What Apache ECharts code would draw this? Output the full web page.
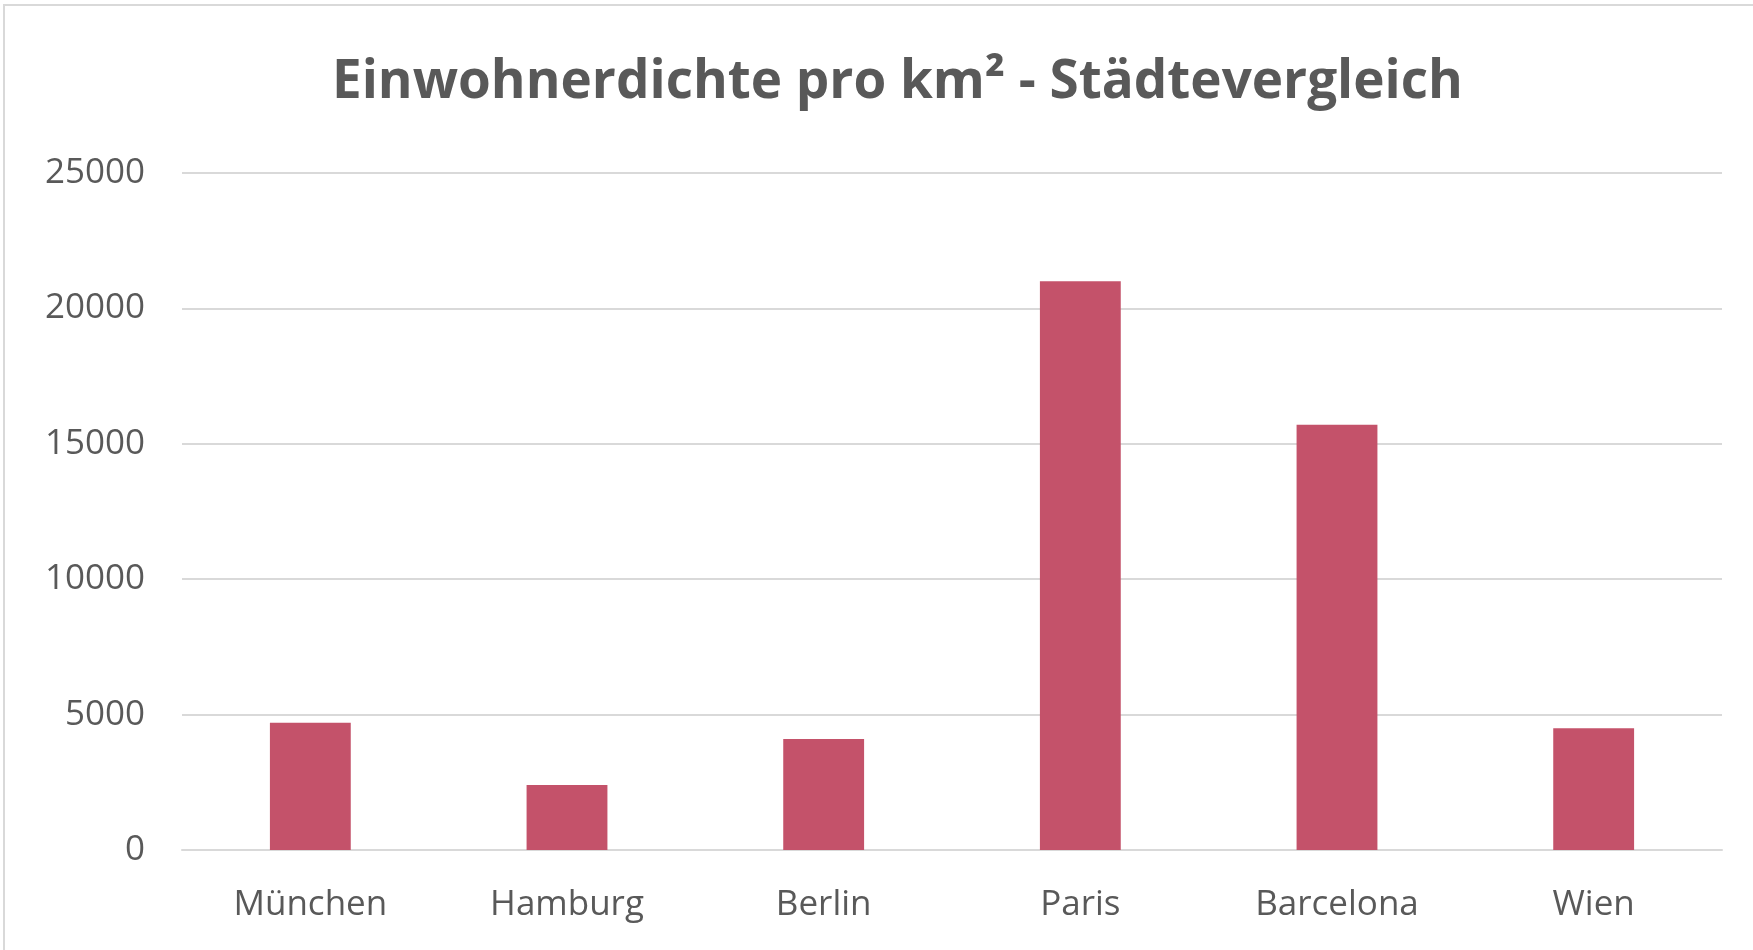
<!DOCTYPE html>
<html>
<head>
<meta charset="utf-8">
<script src="https://cdn.jsdelivr.net/npm/echarts@6/dist/echarts.min.js"></script>
<style>
html,body{margin:0;padding:0;background:#fff;}
#chart{width:1753px;height:950px;}
</style>
</head>
<body>
<div id="chart"></div>
<script>
const titleText = 'Einwohnerdichte pro km² - Städtevergleich';
const categories = ['München', 'Hamburg', 'Berlin', 'Paris', 'Barcelona', 'Wien'];
const densityValues = [4700, 2400, 4100, 21000, 15700, 4500];
const yTicks = [0, 5000, 10000, 15000, 20000, 25000];

const chart = echarts.init(document.getElementById('chart'));
chart.setOption({
  backgroundColor: '#ffffff',
  animation: false,
  graphic: [{
    type: 'rect',
    shape: { x: 4, y: 5, width: 1800, height: 1000 },
    style: { fill: 'none', stroke: '#d9d9d9', lineWidth: 2 },
    silent: true
  }],
  title: {
    text: titleText,
    left: 327,
    top: 51,
    textStyle: { fontFamily: 'Open Sans', fontWeight: 'bold', fontSize: 53, color: '#595959' }
  },
  grid: { left: 182, right: 31, top: 173, bottom: 100 },
  xAxis: {
    type: 'category',
    data: categories,
    axisLine: { lineStyle: { color: '#d9d9d9', width: 2 } },
    axisTick: { show: false },
    axisLabel: { fontFamily: 'Open Sans', fontSize: 35, color: '#595959', margin: 38 }
  },
  yAxis: {
    type: 'value',
    min: yTicks[0],
    max: yTicks[yTicks.length - 1],
    interval: 5000,
    axisLine: { show: false },
    axisTick: { show: false },
    splitLine: { lineStyle: { color: '#d9d9d9', width: 2 } },
    axisLabel: { fontFamily: 'Open Sans', fontSize: 35, color: '#595959', margin: 37, formatter: v => String(v) }
  },
  series: [{
    type: 'bar',
    data: densityValues,
    barWidth: '31.5%',
    itemStyle: { color: '#c4526a' }
  }]
});
</script>
</body>
</html>
